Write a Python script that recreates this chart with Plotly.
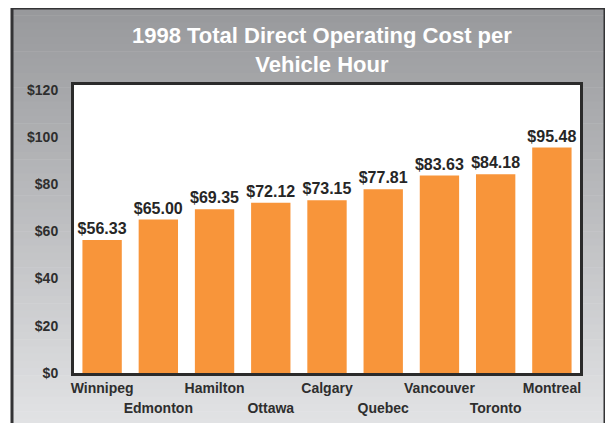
import plotly.graph_objects as go

cities = ["Winnipeg", "Edmonton", "Hamilton", "Ottawa", "Calgary", "Quebec", "Vancouver", "Toronto", "Montreal"]
costs = [56.33, 65.00, 69.35, 72.12, 73.15, 77.81, 83.63, 84.18, 95.48]
yticks = [0, 20, 40, 60, 80, 100, 120]
title_lines = ["1998 Total Direct Operating Cost per", "Vehicle Hour"]

OFF = 8  # page body margin
W, H = 613 - OFF, 423 - OFF
L, R, T, B = 74 - OFF, 580 - OFF, 85 - OFF, 373 - OFF
pw, ph = R - L, B - T

def px(x):
    return (x - OFF - L) / pw

def py(y):
    return (B - (y - OFF)) / ph

idx = list(range(len(cities)))
labels = ["$%.2f" % v for v in costs]

fig = go.Figure()
fig.add_trace(go.Bar(
    x=idx, y=costs, marker=dict(color="#F8953A", line=dict(width=0)),
    text=labels, textposition="outside", cliponaxis=False, constraintext="none",
    textfont=dict(family="Liberation Sans, Arial", size=16, color="#262626", weight="bold"),
    hoverinfo="skip", showlegend=False,
))

# background frame gradient
shapes = []
fx0, fx1, fy0, fy1 = 12, 605, 8, 440
n = 60
top = (0x98, 0x99, 0x9c)
bot = (0xe4, 0xe5, 0xe7)
for i in range(n):
    a = fy0 + (fy1 - fy0) * i / n
    b = fy0 + (fy1 - fy0) * (i + 1) / n + 0.5
    t = i / (n - 1)
    c = tuple(int(round(top[k] + (bot[k] - top[k]) * t)) for k in range(3))
    shapes.append(dict(type="rect", xref="paper", yref="paper", layer="below",
                       x0=px(fx0), x1=px(fx1), y0=py(b), y1=py(a),
                       fillcolor="rgb(%d,%d,%d)" % c, line=dict(width=0)))
shapes.append(dict(type="rect", xref="paper", yref="paper", layer="below",
                   x0=0, x1=1, y0=0, y1=1, fillcolor="white", line=dict(width=0)))
shapes.append(dict(type="rect", xref="paper", yref="paper", layer="above",
                   x0=px(fx0), x1=px(fx1), y0=py(fy1), y1=py(fy0),
                   fillcolor="rgba(0,0,0,0)", line=dict(width=3, color="#333335")))

tickfont = dict(family="Liberation Sans, Arial", size=14, color="#2e2e2e", weight="bold")

fig.update_layout(
    width=W, height=H,
    margin=dict(l=L, r=W - R, t=T, b=H - B, pad=0, autoexpand=False),
    paper_bgcolor="white", plot_bgcolor="white",
    bargap=0.3,
    shapes=shapes,
    showlegend=False,
    xaxis=dict(range=[-0.5, len(cities) - 0.5], tickvals=idx[0::2], ticktext=cities[0::2],
               showgrid=False, zeroline=False, ticks="", ticklabelstandoff=0, automargin=False,
               showline=True, mirror=True, linewidth=3, linecolor="#2b2b2b",
               tickfont=tickfont, fixedrange=True),
    xaxis2=dict(range=[-0.5, len(cities) - 0.5], overlaying="x", anchor="y", side="bottom",
                tickvals=idx[1::2], ticktext=cities[1::2], automargin=False,
                showgrid=False, zeroline=False, ticks="", ticklabelstandoff=25,
                showline=False, tickfont=tickfont, fixedrange=True),
    yaxis=dict(range=[0, 122], tickvals=yticks, ticktext=["$%d" % v for v in yticks],
               showgrid=False, zeroline=False, ticks="", ticklabelstandoff=10, automargin=False,
               showline=True, mirror=True, linewidth=3, linecolor="#2b2b2b",
               tickfont=tickfont, fixedrange=True),
    annotations=[dict(xref="paper", yref="paper", x=px(322), y=py(50), xanchor="center", yanchor="middle",
                      text="<br>".join(title_lines), showarrow=False,
                      font=dict(family="Liberation Sans, Arial", size=22, color="white", weight="bold"))],
)
fig.add_trace(go.Scatter(x=[idx[1]], y=[0], xaxis="x2", mode="markers",
                         marker=dict(opacity=0), hoverinfo="skip", showlegend=False))

fig.write_html("out.html")
